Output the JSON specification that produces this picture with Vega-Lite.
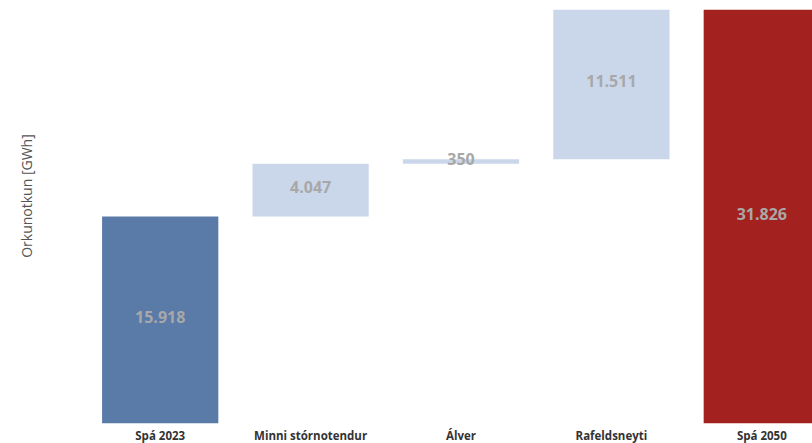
{
  "$schema": "https://vega.github.io/schema/vega-lite/v6.json",
  "width": 727,
  "height": 414,
  "autosize": {"type": "none"},
  "padding": {"left": 85, "top": 9.5, "right": 0, "bottom": 19.5},
  "background": "white",
  "config": {"view": {"stroke": null}, "font": "Open Sans"},
  "data": {
    "values": [
      {"category": "Spá 2023", "start": 0, "end": 15918, "value": 15918, "type": "base"},
      {"category": "Minni stórnotendur", "start": 15918, "end": 19965, "value": 4047, "type": "inc"},
      {"category": "Álver", "start": 19965, "end": 20315, "value": 350, "type": "inc"},
      {"category": "Rafeldsneyti", "start": 20315, "end": 31826, "value": 11511, "type": "inc"},
      {"category": "Spá 2050", "start": 0, "end": 31826, "value": 31826, "type": "total"}
    ]
  },
  "transform": [
    {"calculate": "(datum.start + datum.end) / 2", "as": "mid"},
    {"calculate": "replace(format(datum.value, ',d'), ',', '.')", "as": "label"}
  ],
  "encoding": {
    "x": {
      "field": "category",
      "type": "nominal",
      "sort": null,
      "scale": {"range": [0, 752], "paddingInner": 0.227, "paddingOuter": 0.1135},
      "axis": {
        "title": null,
        "labelAngle": 0,
        "domain": false,
        "ticks": false,
        "labelPadding": 7,
        "labelFont": "Open Sans",
        "labelFontWeight": "bold",
        "labelFontSize": 11.5,
        "labelColor": "#333333"
      }
    }
  },
  "layer": [
    {
      "mark": {"type": "bar", "clip": true},
      "encoding": {
        "y": {
          "field": "start",
          "type": "quantitative",
          "scale": {"domain": [0, 31826], "nice": false, "zero": true},
          "axis": {
            "title": "Orkunotkun [GWh]",
            "labels": false,
            "ticks": false,
            "domain": false,
            "grid": false,
            "titleFont": "Open Sans",
            "titleFontWeight": "normal",
            "titleFontSize": 14,
            "titleColor": "#555555",
            "titleX": -58,
            "titleY": 186,
            "titleBaseline": "middle",
            "titleAngle": -90
          }
        },
        "y2": {"field": "end"},
        "color": {
          "field": "type",
          "type": "nominal",
          "scale": {"domain": ["base", "inc", "total"], "range": ["#5a7aa8", "#cad7ea", "#a3221f"]},
          "legend": null
        }
      }
    },
    {
      "mark": {"type": "text", "font": "Open Sans", "fontWeight": "bold", "fontSize": 16, "color": "#a8a8a8", "baseline": "middle", "dy": -2},
      "encoding": {
        "y": {"field": "mid", "type": "quantitative"},
        "text": {"field": "label"}
      }
    }
  ]
}
